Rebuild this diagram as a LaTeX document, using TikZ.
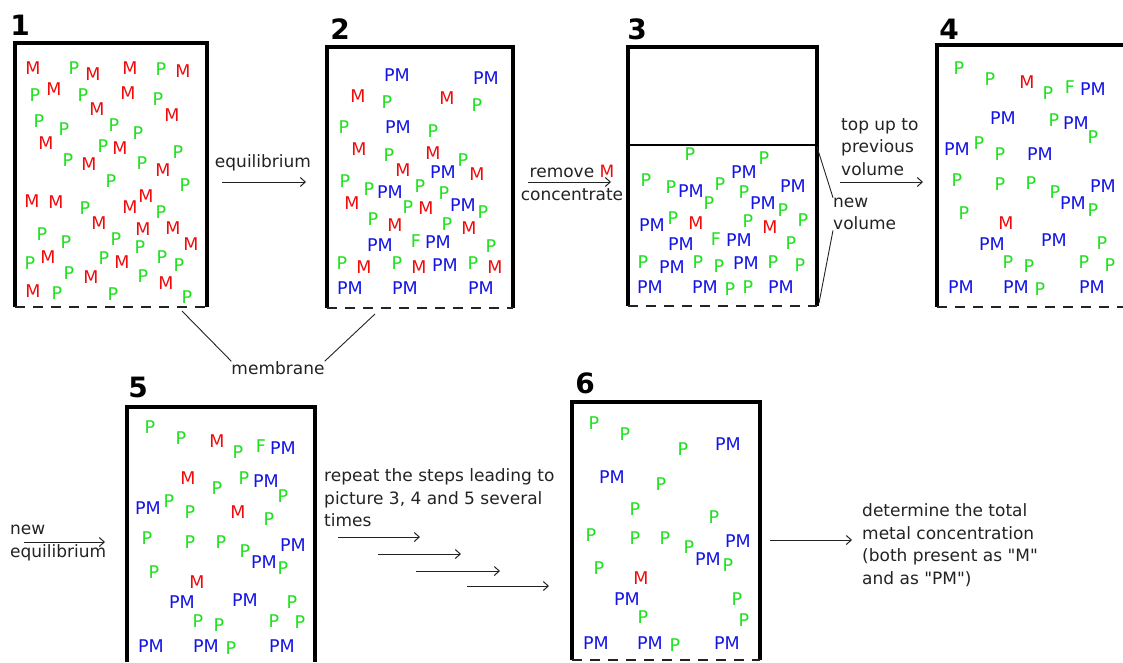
\documentclass[tikz,border=0pt]{standalone}
\usepackage{fontspec}
\setmainfont{DejaVu Sans}[Ligatures=TeXOff]
\usetikzlibrary{arrows.meta}
\definecolor{cP}{RGB}{30,225,30}
\definecolor{cF}{RGB}{30,225,30}
\definecolor{cM}{RGB}{240,10,10}
\definecolor{cPM}{RGB}{20,20,230}
\definecolor{txt}{RGB}{35,35,35}
\begin{document}
\begin{tikzpicture}[x=1pt,y=-1pt,
  mol/.style={inner sep=0pt, font=\fontsize{17.5}{20}\selectfont},
  lbl/.style={inner sep=0pt, text=txt, font=\fontsize{17}{22.5}\selectfont, align=left},
  num/.style={inner sep=0pt, font=\fontsize{28}{30}\selectfont\bfseries},
  wall/.style={line width=4pt, line join=miter},
  mid/.style={line width=1.8pt},
  memb/.style={line width=1.6pt, dash pattern=on 10pt off 8pt, draw=txt},
  thin/.style={line width=0.9pt, draw=txt},
  arr/.style={-{Straight Barb[length=5pt,width=9pt]}, line width=1pt, draw=txt}]
\useasboundingbox (0,0) rectangle (1123,662);
\fill[white] (0,0) rectangle (1123,662);

% ---- box outlines ----
\draw[wall] (15,307) -- (15,43) -- (207,43) -- (207,307);
\draw[memb] (15,307) -- (207,307);
\draw[wall] (327,308) -- (327,47) -- (513,47) -- (513,308);
\draw[memb] (327,308) -- (513,308);
\draw[wall] (628,306) -- (628,47) -- (817,47) -- (817,306);
\draw[mid] (628,145) -- (817,145);
\draw[memb] (628,306) -- (817,306);
\draw[wall] (937,307) -- (937,45) -- (1123,45);
\draw[memb] (937,307) -- (1123,307);
\draw[wall] (127,662) -- (127,407) -- (315,407) -- (315,662);
\draw[wall] (572,660) -- (572,402) -- (760,402) -- (760,660);
\draw[memb] (572,660) -- (760,660);

% ---- numbers ----
\node[num] (n1) at (20,25) {1};
\node[num] (n2) at (340,29) {2};
\node[num] (n3) at (637,29) {3};
\node[num] (n4) at (949,29) {4};
\node[num] (n5) at (138,387) {5};
\node[num] (n6) at (585,383) {6};

% ---- box 1 ----
\foreach \x/\y/\t [count=\i] in {33/68/M, 74/68/P, 93/74/M, 130/68/M, 161/69/P, 183/71/M,
 35/95/P, 54/89/M, 83/95/P, 128/93/M, 158/99/P, 97/109/M, 172/115/M,
 39/121/P, 64/129/P, 114/125/P, 138/133/P, 46/143/M, 103/146/P, 120/148/M, 178/152/P,
 68/160/P, 89/164/M, 142/163/P, 163/170/M, 111/181/P, 185/185/P,
 32/201/M, 56/202/M, 85/208/P, 130/207/M, 146/196/M, 161/212/P,
 99/223/M, 143/229/M, 173/228/M, 191/244/M, 42/234/P, 66/242/P, 116/239/P, 140/247/P,
 30/263/P, 48/257/M, 104/258/P, 122/262/M, 162/257/P, 179/265/P,
 69/273/P, 91/277/M, 143/276/P, 166/283/M, 33/291/M, 57/293/P, 113/294/P, 187/297/P}
 \node[mol, text=c\t] (bA\i) at (\x,\y) {\t};

% ---- box 2 ----
\foreach \x/\y/\t [count=\i] in {397/75/PM, 486/78/PM, 358/96/M, 387/102/P, 447/98/M, 477/105/P,
 344/127/P, 398/127/PM, 433/131/P, 359/149/M, 389/155/P, 433/153/M, 463/160/P,
 403/170/M, 443/172/PM, 477/174/M, 345/181/P, 369/189/P, 390/192/PM, 420/186/P, 444/193/P,
 352/203/M, 408/207/P, 426/208/M, 463/205/PM, 483/212/P, 373/219/P, 395/225/M, 447/224/P, 469/228/M,
 380/245/PM, 416/241/F, 438/242/PM, 491/246/P, 342/263/P, 364/267/M, 397/263/P, 419/267/M, 445/265/PM, 473/263/P, 495/267/M,
 350/288/PM, 405/288/PM, 481/288/PM}
 \node[mol, text=c\t] (bB\i) at (\x,\y) {\t};

% ---- box 3 ----
\foreach \x/\y/\t [count=\i] in {690/154/P, 744/172/PM, 764/158/P, 646/180/P, 671/187/P, 691/191/PM, 720/184/P, 744/192/P, 793/186/PM,
 709/203/P, 763/203/PM, 783/210/P, 652/225/PM, 673/218/P, 696/223/M, 748/221/P, 770/227/M, 803/220/P,
 681/244/PM, 716/239/F, 739/240/PM, 791/243/P, 643/262/P, 672/267/PM, 698/262/P, 719/266/P, 746/263/PM, 773/262/P, 800/265/P,
 650/287/PM, 705/287/PM, 730/289/P, 748/287/P, 781/287/PM}
 \node[mol, text=c\t] (bC\i) at (\x,\y) {\t};

% ---- box 4 ----
\foreach \x/\y/\t [count=\i] in {959/68/P, 990/79/P, 1027/82/M, 1048/93/P, 1070/87/F, 1093/89/PM,
 1003/118/PM, 1054/120/P, 1076/123/PM, 1093/137/P, 957/149/PM, 979/143/P, 1000/154/P, 1040/154/PM,
 957/180/P, 1000/184/P, 1031/183/P, 1055/192/P, 1103/186/PM, 1073/203/PM, 1093/210/P, 964/213/P, 1006/223/M,
 992/244/PM, 1054/240/PM, 1102/243/P, 1008/262/P, 1029/266/P, 1084/262/P, 1110/265/P,
 961/287/PM, 1016/287/PM, 1040/289/P, 1092/287/PM}
 \node[mol, text=c\t] (bD\i) at (\x,\y) {\t};

% ---- box 5 ----
\foreach \x/\y/\t [count=\i] in {150/427/P, 181/438/P, 217/441/M, 238/452/P, 261/446/F, 283/448/PM,
 188/478/M, 217/488/P, 244/478/P, 266/481/PM, 283/496/P, 148/508/PM, 169/501/P, 190/512/P, 238/512/M, 269/519/P,
 147/538/P, 190/542/P, 221/542/P, 245/551/P, 293/545/PM, 264/562/PM, 283/568/P, 154/572/P, 197/582/M,
 182/602/PM, 245/600/PM, 292/602/P, 198/621/P, 219/625/P, 274/621/P, 300/622/P,
 151/646/PM, 206/646/PM, 231/648/P, 282/646/PM}
 \node[mol, text=c\t] (bE\i) at (\x,\y) {\t};

% ---- box 6 ----
\foreach \x/\y/\t [count=\i] in {594/423/P, 625/434/P, 683/449/P, 728/444/PM, 612/477/PM, 661/484/P, 635/509/P, 714/517/P,
 591/535/P, 635/538/P, 665/538/P, 689/547/P, 738/541/PM, 708/559/PM, 728/565/P, 599/568/P, 641/578/M,
 627/599/PM, 643/617/P, 737/599/P, 744/620/P, 596/643/PM, 650/643/PM, 675/645/P, 727/643/PM}
 \node[mol, text=c\t] (bF\i) at (\x,\y) {\t};

% ---- labels ----
\node[lbl, anchor=center] (eq) at (263,163) {equilibrium};
\coordinate (a1s) at (222,182); \coordinate (a1e) at (306,182);
\draw[arr] (a1s) -- (a1e);

\node[lbl, anchor=center] (mem) at (278,368) {membrane};
\coordinate (m1) at (182,311); \coordinate (m2) at (375,314);
\draw[thin] (m1) -- (mem.north west);
\draw[thin] (m2) -- (mem.north east);

\node[lbl, align=center, anchor=center] (rem) at (572,183) {remove \textcolor{cM}{M}\\concentrate};
\coordinate (a2s) at (528,182); \coordinate (a2e) at (611,182);
\draw[arr] (a2s) -- (a2e);

\node[lbl, anchor=west] (top) at (841,147) {top up to\\previous\\volume};
\coordinate (a3s) at (840,182); \coordinate (a3e) at (923,182);
\draw[arr] (a3s) -- (a3e);

\node[lbl, anchor=west] (nv) at (833,214) {new\\volume};
\coordinate (v1) at (817,147); \coordinate (v2) at (819,303);
\draw[thin] (v1) -- (nv.north west);
\draw[thin] (v2) -- (nv.south west);

\node[lbl, anchor=west] (neq) at (10,543) {new\\equilibrium};
\coordinate (a4s) at (24,542); \coordinate (a4e) at (105,542);
\draw[arr] (a4s) -- (a4e);

\node[lbl, anchor=west] (rep) at (324,498) {repeat the steps leading to\\picture 3, 4 and 5 several\\times};
\coordinate (r1s) at (338,537); \coordinate (r1e) at (420,537);
\coordinate (r2s) at (378,554); \coordinate (r2e) at (461,554);
\coordinate (r3s) at (416,571); \coordinate (r3e) at (500,571);
\coordinate (r4s) at (467,586); \coordinate (r4e) at (549,586);
\draw[arr] (r1s) -- (r1e);
\draw[arr] (r2s) -- (r2e);
\draw[arr] (r3s) -- (r3e);
\draw[arr] (r4s) -- (r4e);

\node[lbl, anchor=west] (det) at (862,545) {determine the total\\metal concentration\\(both present as "M"\\and as "PM")};
\coordinate (a5s) at (770,540); \coordinate (a5e) at (852,540);
\draw[arr] (a5s) -- (a5e);
\end{tikzpicture}
\end{document}
